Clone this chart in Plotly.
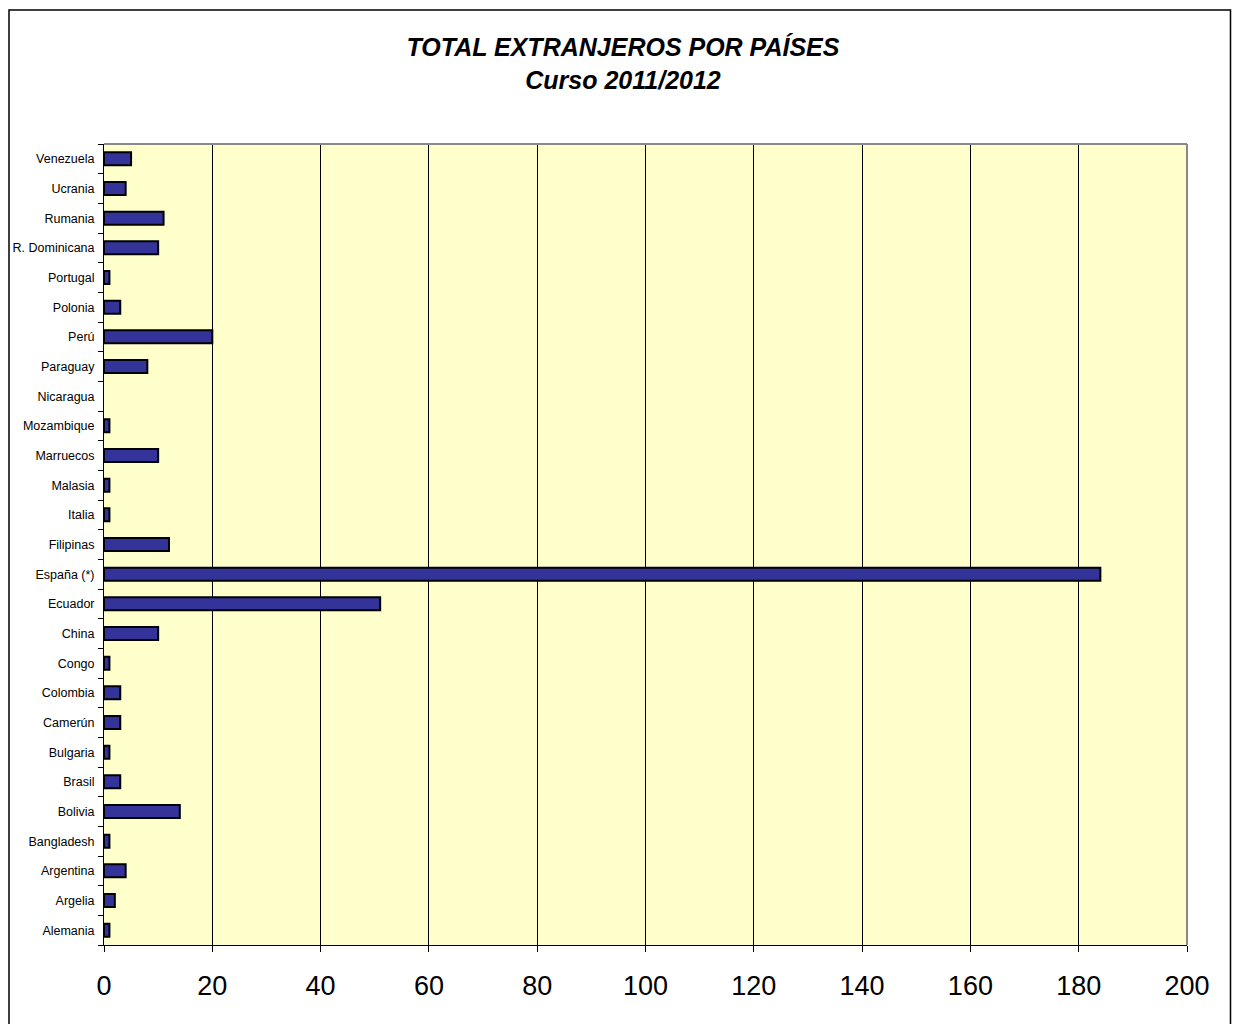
import plotly.graph_objects as go

countries = ["Alemania", "Argelia", "Argentina", "Bangladesh", "Bolivia", "Brasil",
             "Bulgaria", "Camerún", "Colombia", "Congo", "China", "Ecuador",
             "España (*)", "Filipinas", "Italia", "Malasia", "Marruecos", "Mozambique",
             "Nicaragua", "Paraguay", "Perú", "Polonia", "Portugal", "R. Dominicana",
             "Rumania", "Ucrania", "Venezuela"]
values = [1, 2, 4, 1, 14, 3, 1, 3, 3, 1, 10, 51, 184, 12, 1, 1, 10, 1,
          0, 8, 20, 3, 1, 10, 11, 4, 5]
x_ticks = [0, 20, 40, 60, 80, 100, 120, 140, 160, 180, 200]

# page body has an 8px margin; work in page pixels and offset
OFF = 8
W, H = 1240 - 2 * OFF, 1032 - 2 * OFF
L, R, T, B = 104 - OFF, 1187 - OFF, 144 - OFF, 945 - OFF

fig = go.Figure(go.Bar(
    x=values, y=countries, orientation="h",
    marker=dict(color="#333399",
                line=dict(color="black", width=[0 if v == 0 else 2 for v in values])),
    width=0.44,
))

pw, ph = R - L, B - T

def px_x(p):
    return (p - OFF - L) / pw

def px_y(p):
    return (B - (p - OFF)) / ph

fig.update_layout(
    width=W, height=H,
    margin=dict(l=L, r=W - R, t=T, b=H - B, pad=0, autoexpand=False),
    paper_bgcolor="white",
    plot_bgcolor="#FFFFCC",
    showlegend=False,
    font=dict(family="Liberation Sans, Arial, sans-serif", color="black"),
    title=dict(
        text="<b><i>TOTAL EXTRANJEROS POR PAÍSES</i></b><br><b><i>Curso 2011/2012</i></b>",
        x=(623 - OFF) / W, xanchor="center", y=1 - (56 - OFF) / H, yanchor="middle",
        font=dict(size=25, family="Liberation Sans, Arial, sans-serif", color="black"),
    ),
    xaxis=dict(
        range=[0, 200], tickvals=x_ticks, ticktext=[str(v) for v in x_ticks],
        showgrid=True, gridcolor="black", gridwidth=1,
        showline=True, linecolor="black", linewidth=1,
        ticks="outside", ticklen=6, tickcolor="black",
        tickfont=dict(size=27, family="Liberation Sans, Arial, sans-serif"),
        ticklabelstandoff=11, automargin=False,
        zeroline=False, fixedrange=True,
    ),
    yaxis=dict(
        categoryorder="array", categoryarray=countries,
        showgrid=False, showline=True, linecolor="black", linewidth=1,
        ticks="outside", ticklen=5, tickcolor="black", tickson="boundaries",
        tickfont=dict(size=12.5, family="Liberation Sans, Arial, sans-serif"),
        ticklabelstandoff=6, automargin=False,
        fixedrange=True,
    ),
    shapes=[
        dict(type="line", xref="paper", yref="paper", x0=0, x1=1, y0=1, y1=1,
             line=dict(color="#888888", width=2)),
        dict(type="line", xref="paper", yref="paper", x0=1, x1=1, y0=0, y1=1,
             line=dict(color="#888888", width=2)),
        dict(type="rect", xref="paper", yref="paper",
             x0=px_x(9), x1=px_x(1230.5), y0=px_y(1045), y1=px_y(10),
             line=dict(color="black", width=1.5), fillcolor="rgba(0,0,0,0)", layer="below"),
    ],
)

fig.write_html("out.html")
